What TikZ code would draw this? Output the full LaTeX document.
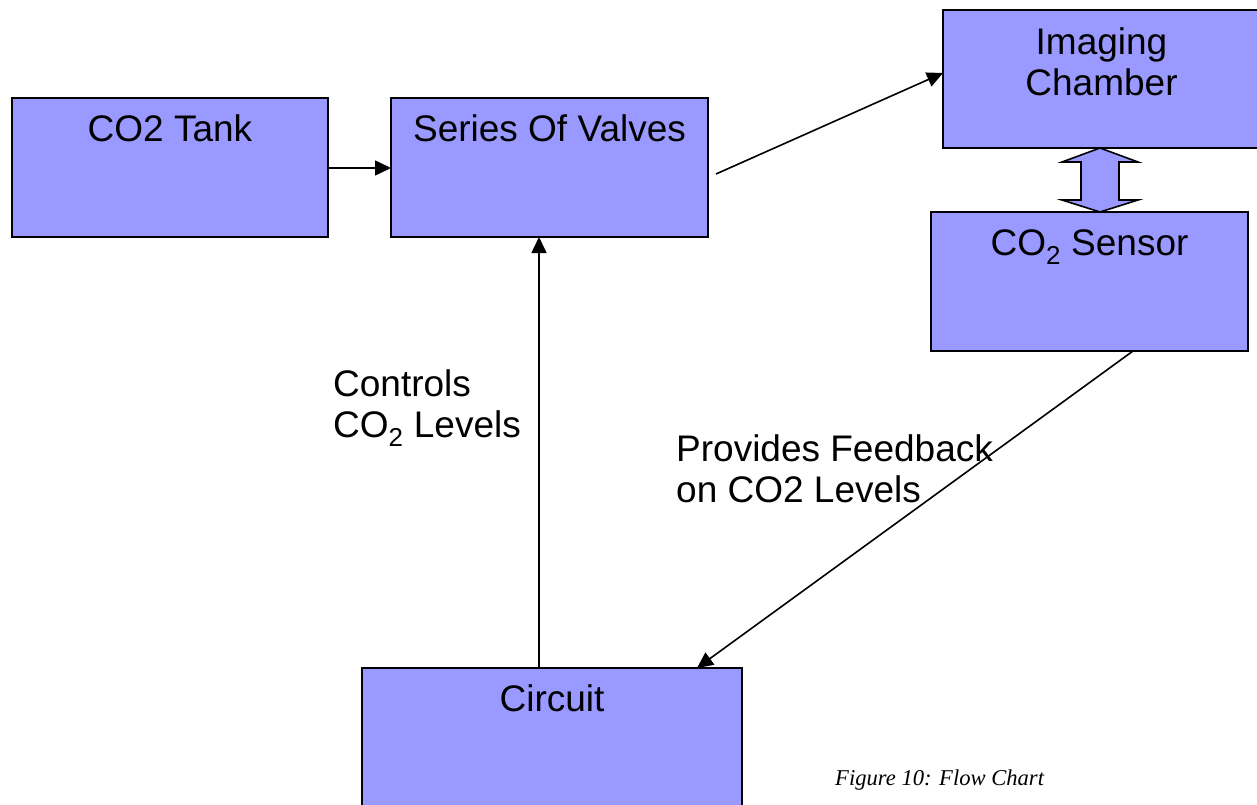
\documentclass[tikz,border=0pt]{standalone}
\usepackage{fontspec}
\setmainfont{Liberation Sans}
\newfontfamily\capfont{Liberation Serif}
\usetikzlibrary{arrows.meta,calc}
\definecolor{boxblue}{HTML}{9999FF}
\tikzset{
  box/.style={draw=black, line width=1.8pt, fill=boxblue, rectangle, inner sep=0pt, outer sep=0pt},
  boxtext/.style={anchor=base, inner sep=0pt, font=\fontsize{37}{41}\selectfont, align=center},
  lbl/.style={anchor=base west, inner sep=0pt, font=\fontsize{37}{41}\selectfont, align=left},
  conn/.style={line width=1.6pt, -{Triangle[length=16pt,width=15pt]}},
}
\begin{document}
\begin{tikzpicture}[x=1pt,y=-1pt]
\useasboundingbox (0,0) rectangle (1257,805);
% boxes
\node[box, minimum width=316pt, minimum height=139pt, anchor=north west] (tank) at (12,98) {};
\node[box, minimum width=317pt, minimum height=139pt, anchor=north west] (valves) at (391,98) {};
\node[box, minimum width=317pt, minimum height=138pt, anchor=north west] (chamber) at (943,10) {};
\node[box, minimum width=317pt, minimum height=139pt, anchor=north west] (sensor) at (931,212) {};
\node[box, minimum width=380pt, minimum height=160pt, anchor=north west] (circuit) at (362,668) {};
% box texts
\node[boxtext] (tanktxt) at ($(tank.north)+(0,44)$) {CO2 Tank};
\node[boxtext] (valvestxt) at ($(valves.north)+(0,44)$) {Series Of Valves};
\node[boxtext, anchor=north] (chambertxt) at ($(chamber.north)+(0,17)$) {Imaging\\Chamber};
\node[boxtext] (sensortxt) at ($(sensor.north)+(0,43)$) {CO\textsubscript{2} Sensor};
\node[boxtext] (circuittxt) at ($(circuit.north)+(0,43)$) {Circuit};
% double arrow between chamber and sensor
\filldraw[draw=black, line width=1.6pt, fill=boxblue, line join=miter]
  (1100,148) -- (1138,162) -- (1119,162) -- (1119,200) -- (1138,200) -- (1100,212)
  -- (1062,200) -- (1081,200) -- (1081,162) -- (1062,162) -- cycle;
% connectors
\coordinate (sensorout) at ([xshift=-115pt]sensor.south east);
\coordinate (circuitin) at ([xshift=-45pt]circuit.north east);
\coordinate (valvesout) at ([xshift=8pt,yshift=-6.5pt]valves.east);
\coordinate (chamberin) at ([yshift=6pt]chamber.west);
\draw[conn] (tank.east |- 0,168) -- (valves.west |- 0,168);
\draw[conn] (valvesout) -- (chamberin);
\draw[conn] (circuit.north -| 539,0) -- (valves.south -| 539,0);
\draw[conn] (sensorout) -- (circuitin);
% labels
\node[lbl] (ctrl) at (333,437) {Controls\\CO\textsubscript{2} Levels};
\node[lbl] (fb) at (676,502) {Provides Feedback\\on CO2 Levels};
\node[anchor=base west, inner sep=0pt, font=\capfont\itshape\fontsize{22.6}{26}\selectfont] (cap) at (835,785) {Figure 10: Flow Chart};
\end{tikzpicture}
\end{document}
